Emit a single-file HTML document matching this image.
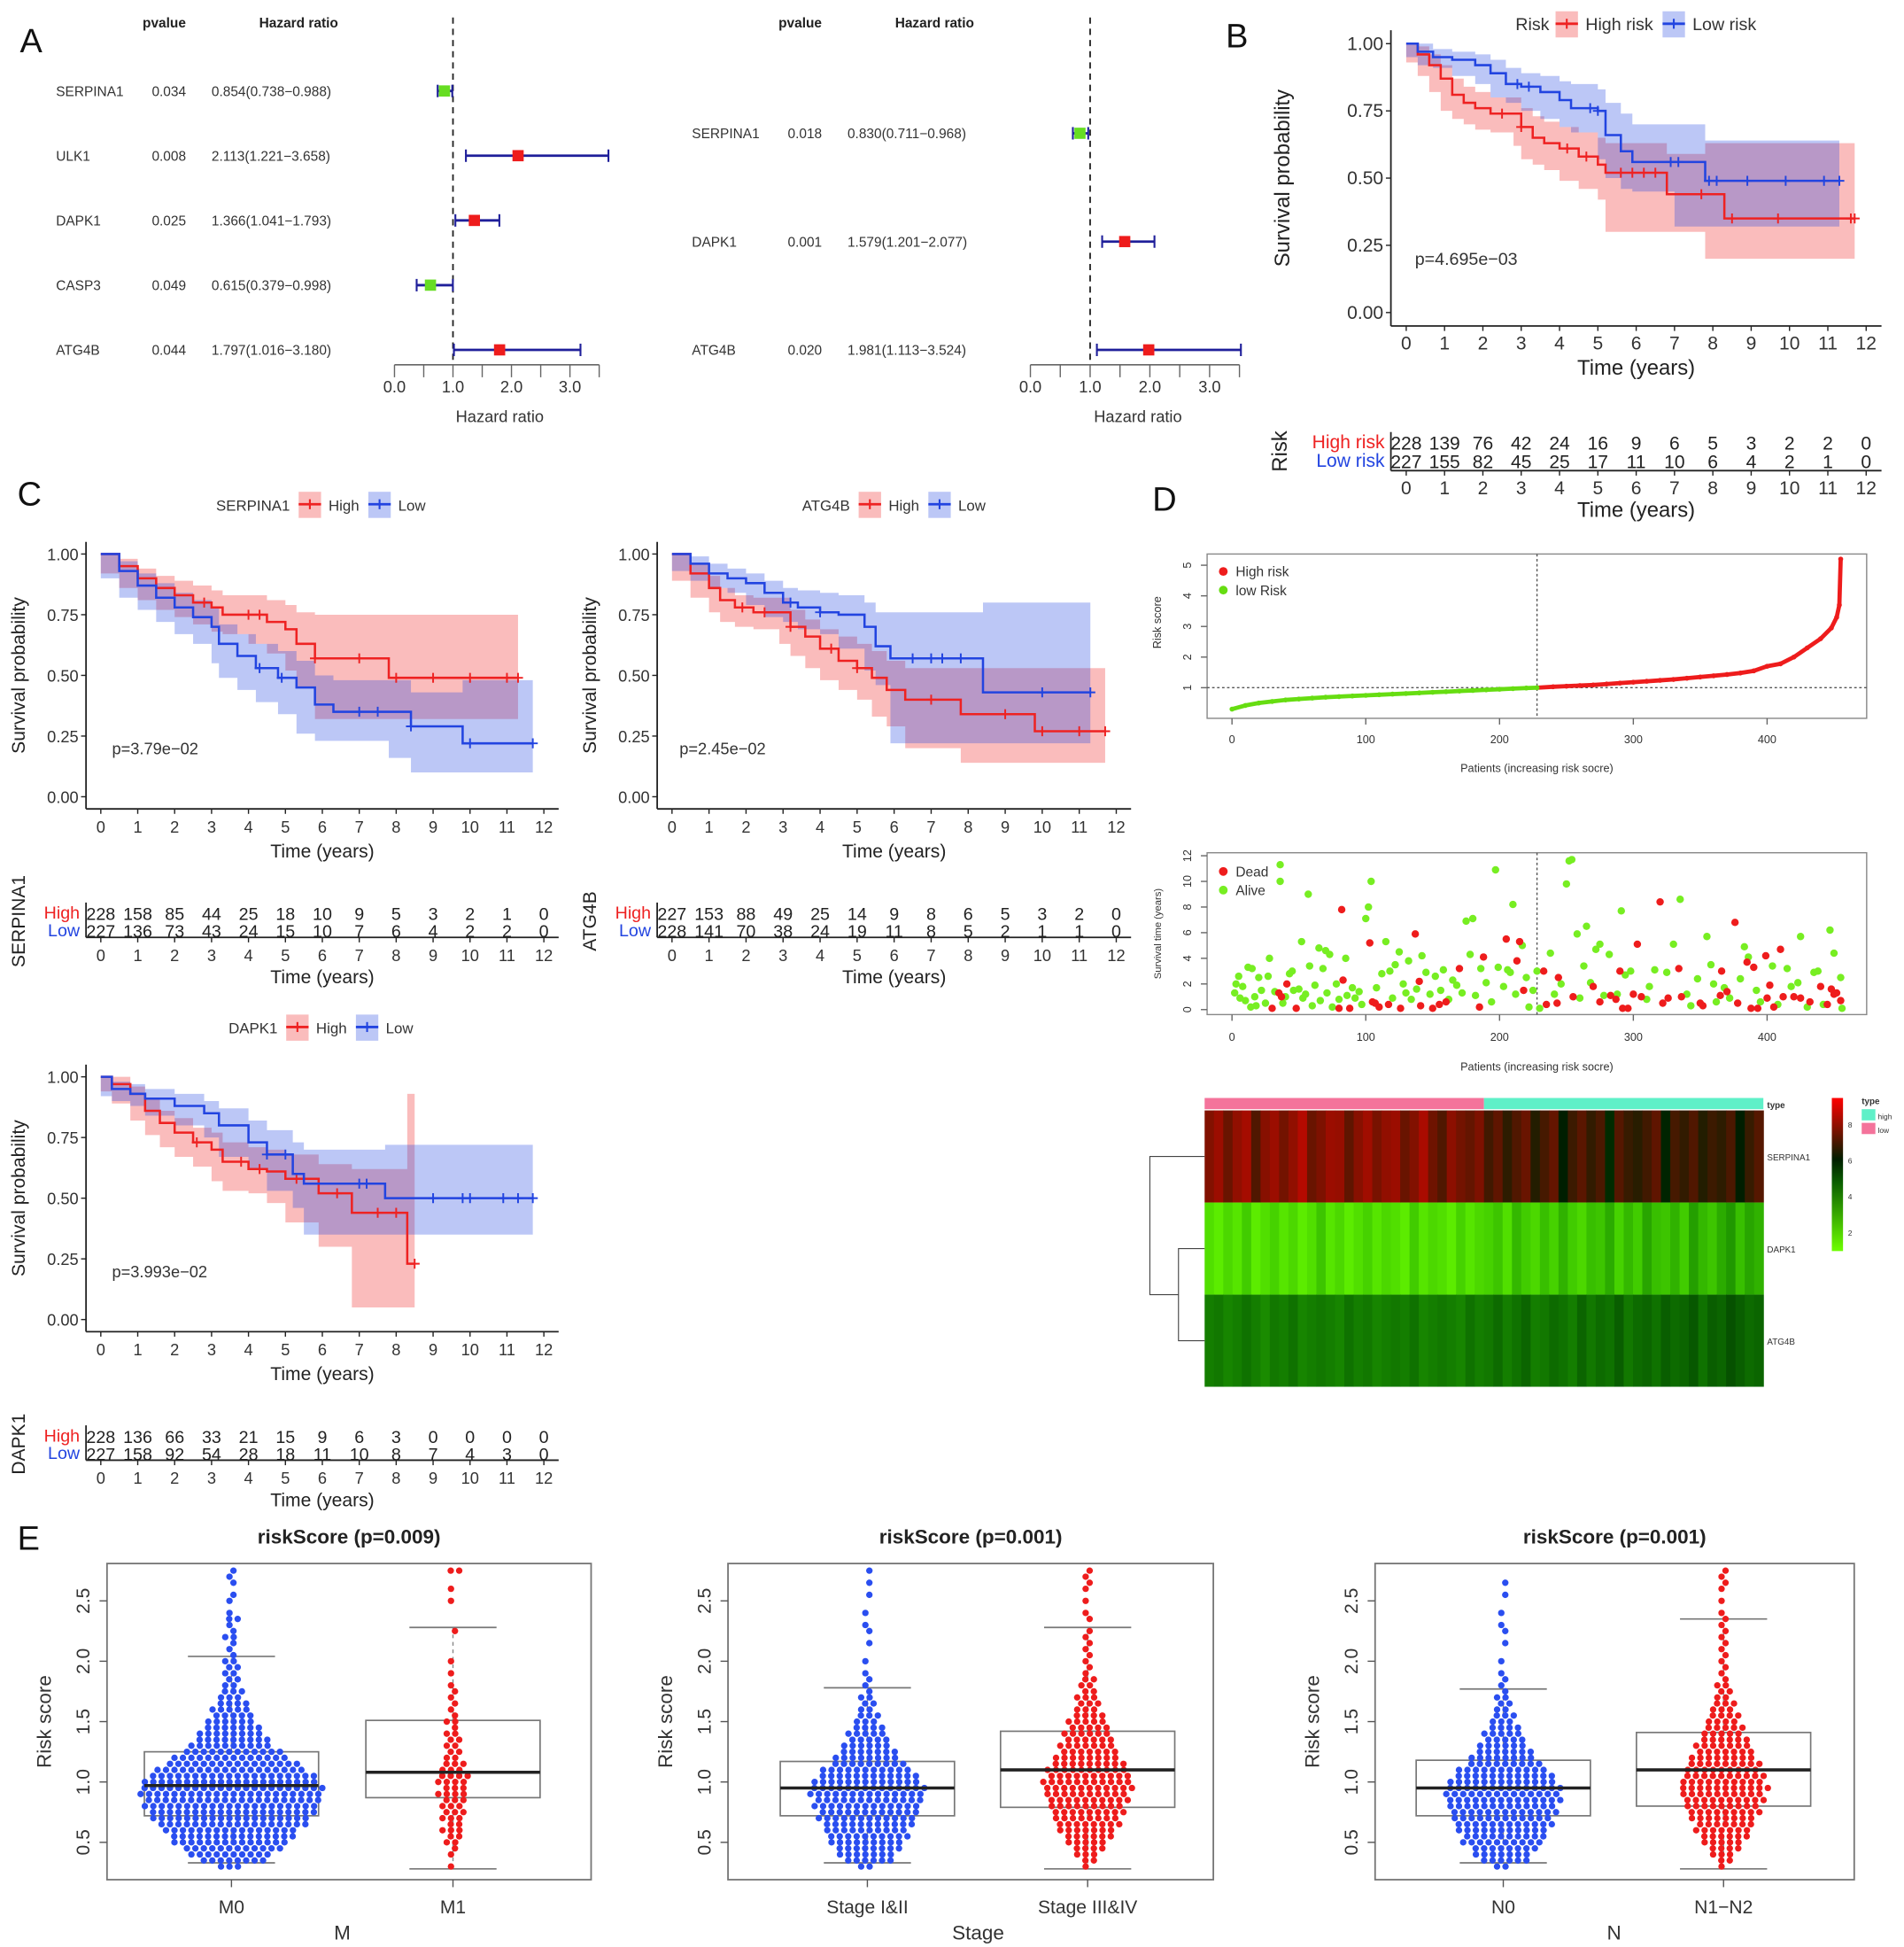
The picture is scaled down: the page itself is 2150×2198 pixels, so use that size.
<!DOCTYPE html>
<html><head><meta charset="utf-8">
<style>
html,body{margin:0;padding:0;background:#fff;}
svg{display:block;font-family:"Liberation Sans",Arial,sans-serif;}
</style></head>
<body>
<svg id="fig" xmlns="http://www.w3.org/2000/svg" width="2150" height="2198" viewBox="0 0 1530 1564"></svg>
<script>
// ---------- DATA ----------
const forestGenesL = ['SERPINA1','ULK1','DAPK1','CASP3','ATG4B'];
const forestPL = ['0.034','0.008','0.025','0.049','0.044'];
const forestHRL = [0.854,2.113,1.366,0.615,1.797];
const forestLoL = [0.738,1.221,1.041,0.379,1.016];
const forestHiL = [0.988,3.658,1.793,0.998,3.180];
const forestGenesR = ['SERPINA1','DAPK1','ATG4B'];
const forestPR = ['0.018','0.001','0.020'];
const forestHRR = [0.830,1.579,1.981];
const forestLoR = [0.711,1.201,1.113];
const forestHiR = [0.968,2.077,3.524];
const forestTicks = ['0.0','1.0','2.0','3.0'];

const kmTicks = [0,1,2,3,4,5,6,7,8,9,10,11,12];
const survTicks = ['1.00','0.75','0.50','0.25','0.00'];
// B: risk
const bHighT = [0,0.3,0.6,0.9,1.2,1.5,1.8,2.2,2.8,3.0,3.3,3.6,4.0,4.5,5.0,5.2,6.8,7.8,8.3,11.7];
const bHighS = [1,0.96,0.92,0.87,0.81,0.78,0.76,0.74,0.74,0.69,0.65,0.63,0.61,0.58,0.55,0.52,0.44,0.44,0.35,0.35];
const bHighLo= [1,0.93,0.88,0.82,0.75,0.72,0.70,0.68,0.67,0.62,0.57,0.55,0.53,0.49,0.46,0.42,0.30,0.30,0.20,0.20];
const bHighHi= [1,0.99,0.96,0.92,0.87,0.84,0.82,0.80,0.80,0.76,0.73,0.71,0.69,0.67,0.65,0.63,0.59,0.63,0.63,0.63];
const bHighC = [2.5,3.0,4.2,4.7,5.6,5.9,6.2,6.5,7.7,8.5,9.7,11.6,11.7];
const bLowT = [0,0.3,0.7,1.2,1.8,2.2,2.6,3.0,3.5,4.0,4.3,5.0,5.2,5.6,5.9,7.0,7.8,11.3];
const bLowS = [1,0.97,0.95,0.94,0.92,0.89,0.85,0.84,0.82,0.79,0.76,0.75,0.66,0.60,0.56,0.56,0.49,0.49];
const bLowLo= [1,0.95,0.92,0.91,0.88,0.85,0.80,0.78,0.75,0.72,0.69,0.67,0.57,0.50,0.46,0.45,0.32,0.32];
const bLowHi= [1,1,0.98,0.97,0.96,0.94,0.91,0.89,0.88,0.86,0.85,0.83,0.78,0.74,0.70,0.70,0.64,0.64];
const bLowC = [2.9,3.2,4.8,5.0,6.9,7.1,7.9,8.1,8.9,9.9,10.9,11.3];
const bHighN = [228,139,76,42,24,16,9,6,5,3,2,2,0];
const bLowN = [227,155,82,45,25,17,11,10,6,4,2,1,0];
// C: SERPINA1
const sHighT=[0,0.5,1.0,1.5,2.0,2.5,3.0,3.3,4.0,4.5,5.0,5.3,5.8,7.8,11.3];
const sHighS=[1,0.95,0.90,0.86,0.83,0.80,0.78,0.75,0.75,0.72,0.69,0.63,0.57,0.49,0.49];
const sHighLo=[1,0.92,0.86,0.81,0.77,0.74,0.71,0.68,0.67,0.63,0.59,0.52,0.45,0.32,0.32];
const sHighHi=[1,0.98,0.94,0.91,0.89,0.87,0.85,0.83,0.83,0.81,0.79,0.76,0.75,0.75,0.75];
const sHighC=[2.8,4.0,4.3,5.8,7.0,8.0,9.0,10.0,11.0,11.3];
const sLowT=[0,0.5,1.0,1.5,2.0,2.5,3.0,3.2,3.7,4.2,4.8,5.3,5.8,6.3,7.8,8.4,9.8,11.7];
const sLowS=[1,0.93,0.87,0.82,0.78,0.74,0.70,0.63,0.58,0.53,0.49,0.45,0.38,0.35,0.35,0.29,0.22,0.22];
const sLowLo=[1,0.90,0.82,0.77,0.72,0.67,0.63,0.55,0.49,0.44,0.39,0.34,0.26,0.23,0.23,0.16,0.10,0.10];
const sLowHi=[1,0.97,0.92,0.88,0.84,0.81,0.78,0.71,0.67,0.63,0.60,0.56,0.50,0.48,0.48,0.43,0.48,0.48];
const sLowC=[4.3,4.9,7.0,7.5,8.4,10.0,11.7];
const sHighN=[228,158,85,44,25,18,10,9,5,3,2,1,0];
const sLowN=[227,136,73,43,24,15,10,7,6,4,2,2,0];
// C: ATG4B
const aHighT=[0,0.5,1.0,1.3,1.7,2.2,2.9,3.2,3.6,4.0,4.5,5.0,5.4,5.8,6.3,7.8,9.8,11.7];
const aHighS=[1,0.92,0.86,0.81,0.78,0.76,0.76,0.70,0.66,0.61,0.56,0.53,0.49,0.44,0.40,0.34,0.27,0.27];
const aHighLo=[1,0.89,0.82,0.76,0.72,0.70,0.69,0.63,0.58,0.53,0.48,0.44,0.40,0.33,0.29,0.20,0.14,0.14];
const aHighHi=[1,0.96,0.91,0.86,0.83,0.82,0.82,0.77,0.73,0.69,0.66,0.63,0.60,0.56,0.53,0.53,0.53,0.53];
const aHighC=[1.9,2.5,3.2,4.3,5.0,7.0,9.0,10.0,11.0,11.7];
const aLowT=[0,0.5,1.0,1.5,2.0,2.5,3.0,3.4,4.0,4.5,5.2,5.5,5.9,8.4,11.3];
const aLowS=[1,0.96,0.92,0.90,0.88,0.84,0.80,0.78,0.76,0.75,0.70,0.62,0.57,0.43,0.43];
const aLowLo=[1,0.93,0.89,0.86,0.84,0.79,0.74,0.72,0.69,0.67,0.61,0.52,0.46,0.22,0.22];
const aLowHi=[1,0.99,0.96,0.94,0.92,0.89,0.86,0.85,0.84,0.83,0.80,0.76,0.76,0.80,0.80];
const aLowC=[3.2,4.0,6.5,7.0,7.3,7.8,10.0,11.3];
const aHighN=[227,153,88,49,25,14,9,8,6,5,3,2,0];
const aLowN=[228,141,70,38,24,19,11,8,5,2,1,1,0];
// C: DAPK1
const dHighT=[0,0.3,0.8,1.2,1.6,2.0,2.5,3.0,3.3,4.0,4.5,5.0,5.9,6.8,8.3,8.5];
const dHighS=[1,0.97,0.93,0.86,0.81,0.77,0.73,0.70,0.65,0.62,0.61,0.58,0.52,0.44,0.23,0.23];
const dHighLo=[1,0.94,0.89,0.82,0.76,0.71,0.67,0.63,0.57,0.53,0.52,0.48,0.40,0.30,0.05,0.05];
const dHighHi=[1,1,0.96,0.91,0.86,0.83,0.79,0.77,0.73,0.71,0.70,0.68,0.64,0.62,0.93,0.93];
const dHighC=[2.6,3.8,4.3,5.3,6.4,7.5,8.0,8.5];
const dLowT=[0,0.3,0.8,1.2,2.0,2.8,3.2,4.0,4.5,5.2,5.5,7.7,11.7];
const dLowS=[1,0.95,0.93,0.91,0.88,0.85,0.80,0.73,0.68,0.60,0.56,0.50,0.50];
const dLowLo=[1,0.92,0.90,0.88,0.84,0.80,0.75,0.67,0.62,0.53,0.46,0.35,0.35];
const dLowHi=[1,0.98,0.97,0.95,0.93,0.90,0.87,0.82,0.78,0.73,0.70,0.72,0.72];
const dLowC=[4.5,5.0,7.0,7.2,9.0,9.8,10.0,10.9,11.3,11.7];
const dHighN=[228,136,66,33,21,15,9,6,3,0,0,0,0];
const dLowN=[227,158,92,54,28,18,11,10,8,7,4,3,0];

// D: risk score curve (patient index, score)
const riskIdx=[0,10,20,30,40,50,60,70,80,90,100,110,120,130,140,150,160,170,180,190,200,210,220,228,240,250,260,270,280,290,300,310,320,330,340,350,360,370,380,390,400,410,420,430,440,448,452,454,455];
const riskVal=[0.3,0.42,0.5,0.55,0.6,0.63,0.66,0.69,0.71,0.73,0.75,0.77,0.79,0.81,0.83,0.85,0.87,0.89,0.91,0.93,0.95,0.97,0.99,1.0,1.03,1.05,1.07,1.09,1.12,1.15,1.18,1.21,1.24,1.27,1.31,1.35,1.39,1.43,1.48,1.55,1.7,1.78,2.0,2.3,2.6,2.95,3.3,3.7,5.2];
const riskTicksX=[0,100,200,300,400];
const riskTicksY=[1,2,3,4,5];
const cutIdx=228;
// D: survival status
const deadIdx=[30,35,37,41,48,80,82,83,88,103,105,107,110,117,126,137,140,141,150,155,160,170,185,188,205,213,215,218,233,235,244,243,255,270,275,283,287,290,292,296,300,303,306,320,322,326,334,336,350,352,365,366,370,376,378,385,388,390,393,399,400,402,405,410,412,420,425,432,440,445,448,450,452,455];
const deadTime=[0.1,1.3,1.0,2.0,0.1,0.1,7.8,2.3,0.1,5.2,0.6,0.5,0.2,0.4,0.1,5.9,2.2,0.3,0.1,0.4,0.6,3.2,0.2,4.1,5.5,3.8,5.3,1.5,3.0,0.4,2.5,0.5,1.0,1.8,0.6,1.1,0.8,3.0,0.1,0.1,1.2,5.1,1.0,8.4,0.5,0.9,3.2,1.0,0.5,0.3,1.1,3.0,1.4,6.8,0.5,3.7,0.1,3.3,0.1,4.2,0.9,1.9,0.2,4.7,1.0,1.0,0.9,0.6,1.8,0.4,1.6,1.2,1.3,0.7];
const aliveIdx=[2,3,5,6,8,10,12,14,15,17,18,20,22,25,27,28,32,36,36,38,40,43,45,46,50,52,53,55,57,58,60,62,65,66,68,70,71,73,75,78,80,85,86,90,92,95,97,100,102,104,108,112,115,118,120,122,125,128,130,132,134,138,142,145,148,152,156,158,162,165,168,172,175,178,180,182,186,190,194,197,199,203,206,208,210,212,217,220,222,225,228,230,238,241,246,250,252,254,258,260,263,265,268,272,275,278,282,288,291,294,298,310,312,316,325,330,335,340,343,348,355,358,360,362,368,372,380,383,386,392,395,404,408,415,418,423,425,430,435,438,442,447,450,455,456];
const aliveTime=[1.3,2.0,2.6,0.9,1.8,0.7,3.3,0.2,3.2,1.0,0.3,2.5,1.5,0.5,2.6,4.0,1.4,11.3,10.0,0.5,1.0,2.8,3.0,1.5,1.6,5.3,0.9,1.2,9.0,3.4,0.3,1.9,4.8,0.7,3.2,4.6,1.3,4.3,0.2,2.0,0.8,4.0,1.1,1.7,0.9,1.4,0.4,7.1,8.0,10.0,1.7,2.8,5.3,3.0,0.9,3.5,4.5,2.0,1.3,3.8,0.8,1.6,4.2,2.9,1.2,2.6,1.5,3.1,0.8,2.3,1.9,1.3,6.9,4.3,7.1,1.1,3.2,2.1,0.6,10.9,3.3,1.8,3.1,2.9,8.2,1.2,5.0,2.5,0.2,1.5,3.0,0.1,4.4,1.2,2.0,9.8,11.6,11.7,5.9,0.9,3.4,6.5,2.1,4.7,5.1,1.1,4.3,1.2,7.7,2.7,3.0,0.8,1.8,3.1,2.9,5.1,8.6,1.2,0.3,2.4,5.7,3.5,2.0,0.6,1.7,0.9,2.4,4.9,4.1,1.5,0.6,3.4,0.4,3.2,1.8,2.1,5.7,0.2,2.9,3.0,0.4,6.2,4.4,2.5,0.1];
const survTicksY=[0,2,4,6,8,10,12];

// D: heatmap
const heatGenes=['SERPINA1','DAPK1','ATG4B'];
const heatSERPINA1=[6.5,7,6,6.8,7.2,5.5,6.6,7,6.2,6.8,7.5,6,6.4,7,6.9,5.8,6.6,7.1,6.3,6.8,7,6,6.5,7.3,6.1,5.5,6.7,6.2,5.9,6.4,5.2,5.8,4.8,5.5,6,4.6,5.3,5.9,4.5,5.1,5.7,4.9,5.4,4.3,5.6,5,4.7,5.2,5.8,4.4,5.3,4.9,5.5,4.6,5.1,4.8,5.4,4.5,5,5.6];
const heatDAPK1=[1.5,1.3,1.6,1.4,1.8,1.3,1.5,1.7,1.4,1.6,1.3,1.5,1.9,1.4,1.6,1.3,1.5,1.7,1.4,1.6,1.5,1.3,1.8,1.4,1.6,1.5,1.3,1.7,1.4,1.6,1.7,1.9,1.5,2.1,1.8,1.6,2,1.7,2.2,1.8,1.6,2,1.9,2.3,1.7,2.1,1.8,2.4,2,1.9,2.2,1.8,2.5,2.1,1.9,2.3,2.6,2,2.4,2.2];
const heatATG4B=[3,3.1,2.9,3,3.2,3,2.8,3.1,3,3.2,2.9,3,3.1,3,2.9,3.2,3,3.1,2.9,3,3.1,3,3.2,2.9,3,3.1,3,2.9,3.2,3,3.1,3.3,3,3.2,3.4,3,3.1,3.3,3.2,3,3.4,3.1,3.3,3.2,3.5,3.1,3.3,3.4,3.2,3.5,3.3,3.4,3.6,3.2,3.5,3.4,3.7,3.5,3.3,3.4];
const heatLegendTicks=[8,6,4,2];

// E: beeswarm histogram counts (bins start 0.30, step 0.05)
const eTicks=[0.5,1.0,1.5,2.0,2.5];
const cntM0=[3,8,10,12,14,15,16,18,19,20,21,21,22,22,21,20,18,16,14,12,10,9,8,7,6,5,5,4,3,3,2,2,2,2,2,1,1,1,2,1,1,2,1,0,1,1,0,1,1,1];
const cntM1=[1,0,1,1,2,2,3,2,3,3,3,3,4,3,4,4,3,3,2,2,2,2,2,1,2,1,1,1,1,1,1,0,1,0,1,0,0,0,0,1,0,0,0,0,1,0,1,0,0,2];
const cntS12=[2,6,7,8,9,10,10,11,12,12,13,13,14,14,13,12,11,9,8,7,6,5,5,4,3,3,2,2,2,1,1,1,1,0,1,0,0,1,0,1,1,0,1,0,0,1,0,1,0,1];
const cntS34=[1,2,3,4,5,6,7,8,8,9,9,10,10,11,11,10,10,9,8,7,7,6,6,5,5,4,3,3,3,2,2,2,1,1,1,1,1,1,1,1,0,1,1,0,1,0,1,1,1,1];
const cntN0=[2,6,7,8,10,10,11,12,12,13,13,14,14,14,13,12,11,9,8,7,6,5,5,4,3,3,2,2,2,1,1,1,1,0,1,0,0,1,0,1,1,0,1,0,0,1,0,1,0,0];
const cntN12=[1,2,3,4,5,6,7,7,8,9,9,10,10,11,10,10,9,9,8,7,7,6,5,5,4,4,3,3,2,2,2,1,1,1,1,1,1,1,1,1,1,1,1,0,1,0,1,1,1,1];
// box stats: [lowWhisker, q1, median, q3, highWhisker]
const boxM0=[0.33,0.72,0.97,1.25,2.04];
const boxM1=[0.28,0.87,1.08,1.51,2.28];
const boxS12=[0.33,0.72,0.95,1.17,1.78];
const boxS34=[0.28,0.79,1.10,1.42,2.28];
const boxN0=[0.33,0.72,0.95,1.18,1.77];
const boxN12=[0.28,0.80,1.10,1.41,2.35];

// ---------- HELPERS ----------
const NS='http://www.w3.org/2000/svg';
const svg=document.getElementById('fig');
function el(tag,attrs,parent){const e=document.createElementNS(NS,tag);for(const k in attrs)e.setAttribute(k,attrs[k]);(parent||svg).appendChild(e);return e;}
function nm(e,n){


return e;}
function txt(x,y,s,size,opt,parent){opt=opt||{};const e=el('text',{x:x,y:y,'font-size':size,'text-anchor':opt.anchor||'start',fill:opt.fill||'#222','font-weight':opt.bold?'bold':'normal'},parent);if(opt.rot!==undefined)e.setAttribute('transform','rotate('+opt.rot+' '+x+' '+y+')');if(opt.fam)e.setAttribute('font-family',opt.fam);e.textContent=s;return e;}
function grp(n){const g=el('g',{});nm(g,n);return g;}

// panel letters
[['A',16,42],['B',985,38],['C',14,406],['D',926,410],['E',14,1245]].forEach(p=>{const t=txt(p[1],p[2],p[0],27,{fill:'#111'});nm(t,'panel-label-'+p[0].toLowerCase());});

// ---------- FOREST ----------
function forest(name,genes,pv,hr,lo,hi,rowsY,cols,ax){
 const g=grp(name);
 const X=v=>ax.x0+v*ax.u;
 nm(txt(cols.p+10,22,'pvalue',11,{bold:true,anchor:'middle'},g),'pvalue-header');
 nm(txt(cols.h+70,22,'Hazard ratio',11,{bold:true,anchor:'middle'},g),'hazard-ratio-header');
 nm(el('line',{x1:X(1),x2:X(1),y1:14,y2:ax.y,stroke:'#222','stroke-width':1.3,'stroke-dasharray':'5,4'},g),'reference-line');
 genes.forEach((gn,i)=>{const y=rowsY[i];
  nm(txt(cols.g,y+4,gn,11,{fill:'#333'},g),'gene-label');
  nm(txt(cols.p,y+4,pv[i],11,{fill:'#333'},g),'pvalue-text');
  nm(txt(cols.h,y+4,hr[i].toFixed(3)+'('+lo[i].toFixed(3)+'\u2212'+hi[i].toFixed(3)+')',11,{fill:'#333'},g),'hr-text');
  nm(el('line',{x1:X(lo[i]),x2:X(hi[i]),y1:y,y2:y,stroke:'#1f1f9a','stroke-width':2},g),'ci-line');
  nm(el('line',{x1:X(lo[i]),x2:X(lo[i]),y1:y-5,y2:y+5,stroke:'#1f1f9a','stroke-width':1.5},g),'ci-cap');
  nm(el('line',{x1:X(hi[i]),x2:X(hi[i]),y1:y-5,y2:y+5,stroke:'#1f1f9a','stroke-width':1.5},g),'ci-cap');
  nm(el('rect',{x:X(hr[i])-4.5,y:y-4.5,width:9,height:9,fill:hr[i]<1?'#66dd22':'#ee1c1c'},g),'hr-marker');
 });
 nm(el('line',{x1:X(0),x2:X(3.5),y1:ax.y,y2:ax.y,stroke:'#666','stroke-width':1.2},g),'x-axis');
 for(let k=0;k<=7;k++){nm(el('line',{x1:X(k/2),x2:X(k/2),y1:ax.y,y2:ax.y+10,stroke:'#666'},g),'x-tick');}
 forestTicks.forEach((t,i)=>nm(txt(X(+t),ax.y+22,t,13,{anchor:'middle',fill:'#333'},g),'x-tick-label'));
 nm(txt(X(1.8),ax.y+46,'Hazard ratio',13,{anchor:'middle',fill:'#333'},g),'x-axis-title');
}
forest('forest-plot-univariate',forestGenesL,forestPL,forestHRL,forestLoL,forestHiL,[73,125,177,229,281],{g:45,p:122,h:170},{x0:317,u:47,y:293});
forest('forest-plot-multivariate',forestGenesR,forestPR,forestHRR,forestLoR,forestHiR,[107,194,281],{g:556,p:633,h:681},{x0:828,u:48,y:293});

// ---------- KM ----------
const RED='#ee2222',BLUE='#2244e0';
function stepPath(T,S,X,Y){let d='M'+X(T[0])+','+Y(S[0]);for(let i=1;i<T.length;i++){d+='H'+X(T[i])+'V'+Y(S[i]);}return d;}
function ciPath(T,L,H,X,Y){let d='M'+X(T[0])+','+Y(H[0]);for(let i=1;i<T.length;i++)d+='H'+X(T[i])+'V'+Y(H[i]);for(let i=T.length-1;i>=1;i--)d+='V'+Y(L[i])+'H'+X(T[i-1]);d+='V'+Y(L[0])+'Z';return d;}
function sAt(T,S,t){let s=S[0];for(let i=0;i<T.length;i++)if(T[i]<=t)s=S[i];return s;}
function km(c){
 const g=grp(c.name);
 const X=t=>c.x0+t*c.xs, Y=s=>c.yB-(c.yB-c.yT)*s;
 const h=c.yB-c.yT, axX=X(-0.4), axY=c.yB+0.05*h;
 nm(txt(c.leg.title,c.leg.y+5,c.leg.label,c.leg.fs,{anchor:'end',fill:'#333'},g),'legend-title');
 [[RED,c.leg.r,c.leg.rt],[BLUE,c.leg.b,c.leg.bt]].forEach(L=>{
   nm(el('rect',{x:L[1],y:c.leg.y-10,width:18,height:21,fill:L[0],opacity:0.3},g),'legend-swatch');
   nm(el('line',{x1:L[1],x2:L[1]+18,y1:c.leg.y,y2:c.leg.y,stroke:L[0],'stroke-width':2},g),'legend-line');
   nm(el('line',{x1:L[1]+9,x2:L[1]+9,y1:c.leg.y-4,y2:c.leg.y+4,stroke:L[0],'stroke-width':1.5},g),'legend-mark');
   nm(txt(L[1]+24,c.leg.y+5,L[2],c.leg.fs,{fill:'#333'},g),'legend-label');
 });
 c.curves.forEach((cv,j)=>{
   const p=el('path',{d:ciPath(cv.T,cv.L,cv.H,X,Y),fill:cv.col,opacity:0.3},g);nm(p,'ci-band-'+cv.id);
 });
 c.curves.forEach(cv=>{
   nm(el('path',{d:stepPath(cv.T,cv.S,X,Y),fill:'none',stroke:cv.col,'stroke-width':1.8},g),'survival-curve-'+cv.id);
   cv.C.forEach(t=>{const y=Y(sAt(cv.T,cv.S,t));nm(el('path',{d:'M'+(X(t)-4)+','+y+'H'+(X(t)+4)+'M'+X(t)+','+(y-4)+'V'+(y+4),stroke:cv.col,'stroke-width':1.4},g),'censor-mark');});
 });
 nm(el('line',{x1:axX,x2:axX,y1:c.yT-0.05*h,y2:axY,stroke:'#222','stroke-width':1.3},g),'y-axis');
 nm(el('line',{x1:axX,x2:X(12.4),y1:axY,y2:axY,stroke:'#222','stroke-width':1.3},g),'x-axis');
 survTicks.forEach(s=>{const y=Y(+s);nm(el('line',{x1:axX-4,x2:axX,y1:y,y2:y,stroke:'#222'},g),'y-tick');nm(txt(axX-6,y+5,s,c.fs,{anchor:'end',fill:'#333'},g),'y-tick-label');});
 kmTicks.forEach(t=>{nm(el('line',{x1:X(t),x2:X(t),y1:axY,y2:axY+4,stroke:'#222'},g),'x-tick');nm(txt(X(t),axY+19,String(t),c.fs,{anchor:'middle',fill:'#333'},g),'x-tick-label');});
 nm(txt(X(6),axY+39,'Time  (years)',c.tfs,{anchor:'middle',fill:'#222'},g),'x-axis-title');
 nm(txt(c.ytX,(c.yT+c.yB)/2,'Survival probability',c.tfs,{anchor:'middle',rot:-90,fill:'#222'},g),'y-axis-title');
 nm(txt(c.px,Y(0.2)+5,c.p,c.pfs,{fill:'#333'},g),'p-value');
 const r=c.tab; const tAx=r.ax;
 nm(txt(r.vx,(r.hy+r.ly)/2,r.vlabel,c.tfs,{anchor:'middle',rot:-90,fill:'#222'},g),'risk-table-title');
 nm(txt(axX-5,r.hy+5,r.hl,r.fs,{anchor:'end',fill:RED},g),'risk-table-high-label');
 nm(txt(axX-5,r.ly+5,r.ll,r.fs,{anchor:'end',fill:BLUE},g),'risk-table-low-label');
 nm(el('line',{x1:axX,x2:axX,y1:r.hy-8,y2:tAx,stroke:'#222','stroke-width':1.3},g),'risk-table-y-axis');
 nm(el('line',{x1:axX,x2:X(12.4),y1:tAx,y2:tAx,stroke:'#222','stroke-width':1.3},g),'risk-table-x-axis');
 kmTicks.forEach((t,i)=>{
   nm(txt(X(t),r.hy+6,String(c.hN[i]),r.fs,{anchor:'middle',fill:'#222'},g),'risk-count-high');
   nm(txt(X(t),r.ly+6,String(c.lN[i]),r.fs,{anchor:'middle',fill:'#222'},g),'risk-count-low');
   nm(el('line',{x1:X(t),x2:X(t),y1:tAx,y2:tAx+4,stroke:'#222'},g),'risk-table-tick');
   nm(txt(X(t),tAx+19,String(t),c.fs,{anchor:'middle',fill:'#333'},g),'risk-table-tick-label');
 });
 nm(txt(X(6),tAx+37,'Time  (years)',c.tfs,{anchor:'middle',fill:'#222'},g),'risk-table-x-title');
}
km({name:'km-risk',x0:1130,xs:30.8,yT:35,yB:251,fs:15,tfs:17,pfs:14,ytX:1036,px:1137,p:'p=4.695e\u221203',
 leg:{y:19,title:1245,label:'Risk',fs:14,r:1250,rt:'High risk',b:1336,bt:'Low risk'},
 curves:[{id:'high',col:RED,T:bHighT,S:bHighS,L:bHighLo,H:bHighHi,C:bHighC},{id:'low',col:BLUE,T:bLowT,S:bLowS,L:bLowLo,H:bLowHi,C:bLowC}],
 hN:bHighN,lN:bLowN,tab:{ax:378,hy:355,ly:370,fs:15,hl:'High risk',ll:'Low risk',vlabel:'Risk',vx:1034}});
km({name:'km-serpina1',x0:81,xs:29.67,yT:445,yB:640,fs:13,tfs:15,pfs:13,ytX:20,px:90,p:'p=3.79e\u221202',
 leg:{y:405,title:233,label:'SERPINA1',fs:12,r:240,rt:'High',b:296,bt:'Low'},
 curves:[{id:'high',col:RED,T:sHighT,S:sHighS,L:sHighLo,H:sHighHi,C:sHighC},{id:'low',col:BLUE,T:sLowT,S:sLowS,L:sLowLo,H:sLowHi,C:sLowC}],
 hN:sHighN,lN:sLowN,tab:{ax:753,hy:733,ly:747,fs:14,hl:'High',ll:'Low',vlabel:'SERPINA1',vx:20}});
km({name:'km-atg4b',x0:540,xs:29.75,yT:445,yB:640,fs:13,tfs:15,pfs:13,ytX:479,px:546,p:'p=2.45e\u221202',
 leg:{y:405,title:683,label:'ATG4B',fs:12,r:690,rt:'High',b:746,bt:'Low'},
 curves:[{id:'high',col:RED,T:aHighT,S:aHighS,L:aHighLo,H:aHighHi,C:aHighC},{id:'low',col:BLUE,T:aLowT,S:aLowS,L:aLowLo,H:aLowHi,C:aLowC}],
 hN:aHighN,lN:aLowN,tab:{ax:753,hy:733,ly:747,fs:14,hl:'High',ll:'Low',vlabel:'ATG4B',vx:479}});
km({name:'km-dapk1',x0:81,xs:29.67,yT:865,yB:1060,fs:13,tfs:15,pfs:13,ytX:20,px:90,p:'p=3.993e\u221202',
 leg:{y:825,title:223,label:'DAPK1',fs:12,r:230,rt:'High',b:286,bt:'Low'},
 curves:[{id:'high',col:RED,T:dHighT,S:dHighS,L:dHighLo,H:dHighHi,C:dHighC},{id:'low',col:BLUE,T:dLowT,S:dLowS,L:dLowLo,H:dLowHi,C:dLowC}],
 hN:dHighN,lN:dLowN,tab:{ax:1173,hy:1153,ly:1167,fs:14,hl:'High',ll:'Low',vlabel:'DAPK1',vx:20}});

// ---------- D: risk score ----------
(function(){
 const g=grp('risk-score-plot');
 const X=i=>990+i*1.075, Y=v=>577-v*24.6;
 nm(el('rect',{x:970,y:445,width:530,height:132,fill:'none',stroke:'#888','stroke-width':1},g),'plot-frame');
 nm(el('line',{x1:X(cutIdx),x2:X(cutIdx),y1:445,y2:577,stroke:'#555','stroke-dasharray':'2,2'},g),'cutoff-line');
 nm(el('line',{x1:970,x2:1500,y1:Y(1),y2:Y(1),stroke:'#555','stroke-dasharray':'2,2'},g),'threshold-line');
 for(let i=1;i<riskIdx.length;i++){
   const col=riskIdx[i]<=cutIdx?'#66dd11':'#ee1c1c';
   nm(el('line',{x1:X(riskIdx[i-1]),y1:Y(riskVal[i-1]),x2:X(riskIdx[i]),y2:Y(riskVal[i]),stroke:col,'stroke-width':3.4,'stroke-linecap':'round'},g),'risk-line-segment');
 }
 riskIdx.forEach((p,i)=>{nm(el('circle',{cx:X(p),cy:Y(riskVal[i]),r:2,fill:p<=cutIdx?'#66dd11':'#ee1c1c'},g),'risk-point');});
 riskTicksX.forEach(t=>{nm(el('line',{x1:X(t),x2:X(t),y1:577,y2:582,stroke:'#666'},g),'x-tick');nm(txt(X(t),597,String(t),9,{anchor:'middle',fill:'#333'},g),'x-tick-label');});
 riskTicksY.forEach(t=>{nm(el('line',{x1:965,x2:970,y1:Y(t),y2:Y(t),stroke:'#666'},g),'y-tick');nm(txt(957,Y(t),String(t),9,{anchor:'middle',rot:-90,fill:'#333'},g),'y-tick-label');});
 nm(txt(1235,620,'Patients (increasing risk socre)',9,{anchor:'middle',fill:'#333'},g),'x-axis-title');
 nm(txt(933,500,'Risk score',9,{anchor:'middle',rot:-90,fill:'#333'},g),'y-axis-title');
 nm(el('circle',{cx:983,cy:459,r:3.5,fill:'#ee1c1c'},g),'legend-dot-high');
 nm(txt(993,463,'High risk',11,{fill:'#333'},g),'legend-label-high');
 nm(el('circle',{cx:983,cy:474,r:3.5,fill:'#66dd11'},g),'legend-dot-low');
 nm(txt(993,478,'low Risk',11,{fill:'#333'},g),'legend-label-low');
})();
(function(){
 const g=grp('survival-status-plot');
 const X=i=>990+i*1.075, Y=v=>811-v*10.3;
 nm(el('rect',{x:970,y:685,width:530,height:130,fill:'none',stroke:'#888','stroke-width':1},g),'plot-frame');
 nm(el('line',{x1:X(cutIdx),x2:X(cutIdx),y1:685,y2:815,stroke:'#555','stroke-dasharray':'2,2'},g),'cutoff-line');
 aliveIdx.forEach((p,i)=>{nm(el('circle',{cx:X(p),cy:Y(aliveTime[i]),r:3,fill:'#77ee22'},g),'alive-point');});
 deadIdx.forEach((p,i)=>{nm(el('circle',{cx:X(p),cy:Y(deadTime[i]),r:3,fill:'#ee1c1c'},g),'dead-point');});
 riskTicksX.forEach(t=>{nm(el('line',{x1:X(t),x2:X(t),y1:815,y2:820,stroke:'#666'},g),'x-tick');nm(txt(X(t),836,String(t),9,{anchor:'middle',fill:'#333'},g),'x-tick-label');});
 survTicksY.forEach(t=>{nm(el('line',{x1:965,x2:970,y1:Y(t),y2:Y(t),stroke:'#666'},g),'y-tick');nm(txt(957,Y(t),String(t),9,{anchor:'middle',rot:-90,fill:'#333'},g),'y-tick-label');});
 nm(txt(1235,860,'Patients (increasing risk socre)',9,{anchor:'middle',fill:'#333'},g),'x-axis-title');
 nm(txt(933,750,'Survival time (years)',8,{anchor:'middle',rot:-90,fill:'#333'},g),'y-axis-title');
 nm(el('circle',{cx:983,cy:700,r:3.5,fill:'#ee1c1c'},g),'legend-dot-dead');
 nm(txt(993,704,'Dead',11,{fill:'#333'},g),'legend-label-dead');
 nm(el('circle',{cx:983,cy:715,r:3.5,fill:'#77ee22'},g),'legend-dot-alive');
 nm(txt(993,719,'Alive',11,{fill:'#333'},g),'legend-label-alive');
})();
(function(){
 const g=grp('expression-heatmap');
 function col(v){
   if(v<=4.5){const t=Math.max(0,Math.min(1,(v-1)/3.5));return 'rgb('+Math.round(110*(1-t)*(1-t))+','+Math.round(255-225*t)+',0)';}
   const t=Math.min(1,(v-4.5)/4.5);return 'rgb('+Math.round(30+225*t)+','+Math.round(30*(1-t))+',0)';
 }
 const x0=968,x1=1417,rows=[heatSERPINA1,heatDAPK1,heatATG4B],ry=[892,966,1040],rh=74;
 nm(el('rect',{x:x0,y:882,width:(x1-x0)/2,height:9,fill:'#f4739b'},g),'type-bar-low');
 nm(el('rect',{x:(x0+x1)/2,y:882,width:(x1-x0)/2,height:9,fill:'#5ff0c8'},g),'type-bar-high');
 nm(txt(1420,890,'type',7,{bold:true,fill:'#333'},g),'type-bar-label');
 rows.forEach((arr,r)=>{const w=(x1-x0)/arr.length;
   arr.forEach((v,i)=>{nm(el('rect',{x:x0+i*w,y:ry[r],width:w+0.4,height:rh,fill:col(v)},g),'heatmap-cell');});
   nm(txt(1420,ry[r]+rh/2+3,heatGenes[r],7,{fill:'#333'},g),'heatmap-row-label');
 });
 nm(el('path',{d:'M968,929H924V1040H947M968,1003H947V1077H968',fill:'none',stroke:'#444','stroke-width':0.8},g),'dendrogram');
 const defs=el('defs',{},g);const lg=el('linearGradient',{id:'hg',x1:0,y1:1,x2:0,y2:0},defs);
 [[0,1],[0.45,3.5],[0.6,4.5],[0.8,6.5],[1,9]].forEach(s=>el('stop',{offset:s[0],'stop-color':col(s[1])},lg));
 nm(el('rect',{x:1472,y:882,width:9,height:123,fill:'url(#hg)'},g),'color-scale');
 heatLegendTicks.forEach(t=>{const y=1005-(t-1)/8.5*123;nm(txt(1485,y+2,String(t),6,{fill:'#333'},g),'color-scale-label');});
 nm(txt(1496,887,'type',7,{bold:true,fill:'#333'},g),'type-legend-title');
 nm(el('rect',{x:1496,y:891,width:11,height:9,fill:'#5ff0c8'},g),'type-legend-high');
 nm(txt(1509,899,'high',6,{fill:'#333'},g),'type-legend-high-label');
 nm(el('rect',{x:1496,y:902,width:11,height:9,fill:'#f4739b'},g),'type-legend-low');
 nm(txt(1509,910,'low',6,{fill:'#333'},g),'type-legend-low-label');
})();

// ---------- E: boxplots ----------
function boxPanel(c){
 const g=grp(c.name);
 const Y=v=>1480-(v-0.5)*97;
 nm(txt((c.fx0+c.fx1)/2,1240,c.title,16,{anchor:'middle',bold:true,fill:'#222'},g),'plot-title');
 [[c.b1,c.cx1,c.cnt1,'#2a4ef0'],[c.b2,c.cx2,c.cnt2,'#ee1c1c']].forEach(B=>{
   const s=B[0],cx=B[1];
   nm(el('line',{x1:cx,x2:cx,y1:Y(s[3]),y2:Y(s[4]),stroke:'#888','stroke-dasharray':'3,3'},g),'whisker-upper');
   nm(el('line',{x1:cx,x2:cx,y1:Y(s[1]),y2:Y(s[0]),stroke:'#888','stroke-dasharray':'3,3'},g),'whisker-lower');
   nm(el('line',{x1:cx-35,x2:cx+35,y1:Y(s[4]),y2:Y(s[4]),stroke:'#777','stroke-width':1.2},g),'whisker-cap');
   nm(el('line',{x1:cx-35,x2:cx+35,y1:Y(s[0]),y2:Y(s[0]),stroke:'#777','stroke-width':1.2},g),'whisker-cap');
   nm(el('rect',{x:cx-70,y:Y(s[3]),width:140,height:Y(s[1])-Y(s[3]),fill:'none',stroke:'#777','stroke-width':1.2},g),'box');
   B[2].forEach((n,k)=>{const v=0.30+k*0.05,y=Y(v),off=(k%2)?1.6:-1.6;
     for(let j=0;j<n;j++){nm(el('circle',{cx:cx+off+(j-(n-1)/2)*6.8,cy:y,r:2.6,fill:B[3]},g),'swarm-point');}
   });
   nm(el('line',{x1:cx-70,x2:cx+70,y1:Y(s[2]),y2:Y(s[2]),stroke:'#222','stroke-width':2.5},g),'median-line');
 });
 nm(el('rect',{x:c.fx0,y:1256,width:c.fx1-c.fx0,height:254,fill:'none',stroke:'#777','stroke-width':1.3},g),'plot-frame');
 eTicks.forEach(t=>{nm(el('line',{x1:c.fx0-6,x2:c.fx0,y1:Y(t),y2:Y(t),stroke:'#555'},g),'y-tick');nm(txt(c.fx0-14,Y(t),t.toFixed(1),15,{anchor:'middle',rot:-90,fill:'#333'},g),'y-tick-label');});
 [[c.cx1,c.l1],[c.cx2,c.l2]].forEach(L=>{nm(el('line',{x1:L[0],x2:L[0],y1:1510,y2:1516,stroke:'#555'},g),'x-tick');nm(txt(L[0],1537,L[1],15,{anchor:'middle',fill:'#333'},g),'x-tick-label');});
 nm(txt(c.xt,1558,c.xtitle,16,{anchor:'middle',fill:'#333'},g),'x-axis-title');
 nm(txt(c.fx0-45,1383,'Risk score',16,{anchor:'middle',rot:-90,fill:'#333'},g),'y-axis-title');
}
boxPanel({name:'boxplot-m',title:'riskScore (p=0.009)',fx0:86,fx1:475,cx1:186,cx2:364,b1:boxM0,b2:boxM1,cnt1:cntM0,cnt2:cntM1,l1:'M0',l2:'M1',xtitle:'M',xt:275});
boxPanel({name:'boxplot-stage',title:'riskScore (p=0.001)',fx0:585,fx1:975,cx1:697,cx2:874,b1:boxS12,b2:boxS34,cnt1:cntS12,cnt2:cntS34,l1:'Stage I&II',l2:'Stage III&IV',xtitle:'Stage',xt:786});
boxPanel({name:'boxplot-n',title:'riskScore (p=0.001)',fx0:1105,fx1:1490,cx1:1208,cx2:1385,b1:boxN0,b2:boxN12,cnt1:cntN0,cnt2:cntN12,l1:'N0',l2:'N1\u2212N2',xtitle:'N',xt:1297});
</script>
</body></html>
